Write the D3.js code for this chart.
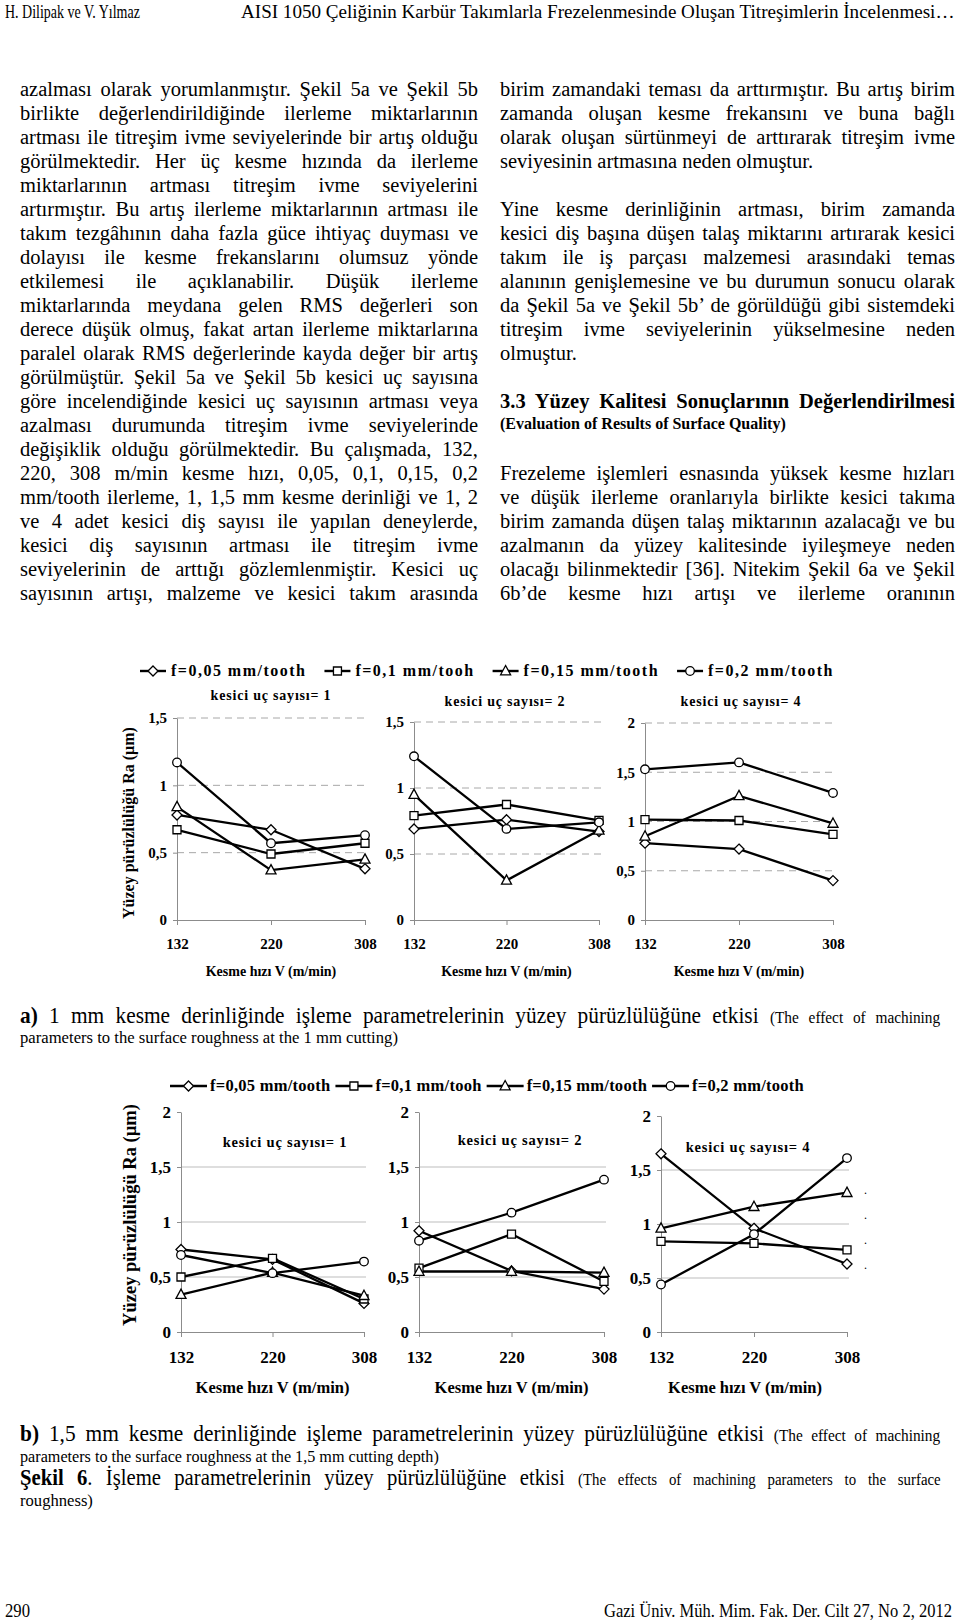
<!DOCTYPE html>
<html>
<head>
<meta charset="utf-8">
<script src="https://cdn.jsdelivr.net/npm/d3@7"></script>
<style>
body{margin:0;background:#fff;}
svg{display:block;}
text{font-family:"Liberation Serif","Times New Roman",serif;fill:#000;}
</style>
</head>
<body>
<div id="page"></div>
<script>
// ---- chart data ----
var speeds = ["132", "220", "308"];
var feedLabels = ["f=0,05 mm/tooth", "f=0,1 mm/tooh", "f=0,15 mm/tooth", "f=0,2 mm/tooth"];
var markerTypes = ["diamond", "square", "triangle", "circle"];
var insertTitles = ["kesici uç sayısı= 1", "kesici uç sayısı= 2", "kesici uç sayısı= 4"];
var ticksTo15 = [0, 0.5, 1, 1.5];
var ticksTo2 = [0, 0.5, 1, 1.5, 2];

// Ra values, one row per feed (0,05 / 0,1 / 0,15 / 0,2), columns = speeds
// a) 1 mm cutting depth
var raA_z1 = [[0.78, 0.67, 0.38], [0.67, 0.49, 0.57], [0.84, 0.37, 0.45], [1.17, 0.57, 0.63]];
var raA_z2 = [[0.69, 0.76, 0.67], [0.79, 0.875, 0.755], [0.95, 0.30, 0.68], [1.24, 0.69, 0.74]];
var raA_z4 = [[0.78, 0.72, 0.40], [1.02, 1.01, 0.87], [0.85, 1.26, 0.98], [1.53, 1.60, 1.29]];
// b) 1,5 mm cutting depth
var raB_z1 = [[0.75, 0.66, 0.26], [0.50, 0.67, 0.30], [0.34, 0.54, 0.33], [0.70, 0.535, 0.64]];
var raB_z2 = [[0.92, 0.555, 0.39], [0.58, 0.89, 0.46], [0.55, 0.55, 0.54], [0.83, 1.085, 1.385]];
var raB_z4 = [[1.65, 0.96, 0.63], [0.84, 0.82, 0.76], [0.96, 1.16, 1.29], [0.44, 0.905, 1.61]];

// ---- page text ----
var leftLines = [
  "azalması olarak yorumlanmıştır. Şekil 5a ve Şekil 5b",
  "birlikte değerlendirildiğinde ilerleme miktarlarının",
  "artması ile titreşim ivme seviyelerinde bir artış olduğu",
  "görülmektedir. Her üç kesme hızında da ilerleme",
  "miktarlarının artması titreşim ivme seviyelerini",
  "artırmıştır. Bu artış ilerleme miktarlarının artması ile",
  "takım tezgâhının daha fazla güce ihtiyaç duyması ve",
  "dolayısı ile kesme frekanslarını olumsuz yönde",
  "etkilemesi ile açıklanabilir. Düşük ilerleme",
  "miktarlarında meydana gelen RMS değerleri son",
  "derece düşük olmuş, fakat artan ilerleme miktarlarına",
  "paralel olarak RMS değerlerinde kayda değer bir artış",
  "görülmüştür. Şekil 5a ve Şekil 5b kesici uç sayısına",
  "göre incelendiğinde kesici uç sayısının artması veya",
  "azalması durumunda titreşim ivme seviyelerinde",
  "değişiklik olduğu görülmektedir. Bu çalışmada, 132,",
  "220, 308 m/min kesme hızı, 0,05, 0,1, 0,15, 0,2",
  "mm/tooth ilerleme, 1, 1,5 mm kesme derinliği ve 1, 2",
  "ve 4 adet kesici diş sayısı ile yapılan deneylerde,",
  "kesici diş sayısının artması ile titreşim ivme",
  "seviyelerinin de arttığı gözlemlenmiştir. Kesici uç",
  "sayısının artışı, malzeme ve kesici takım arasında"
];
var rightLines = [
  "birim zamandaki teması da arttırmıştır. Bu artış birim",
  "zamanda oluşan kesme frekansını ve buna bağlı",
  "olarak oluşan sürtünmeyi de arttırarak titreşim ivme",
  "seviyesinin artmasına neden olmuştur.",
  null,
  "Yine kesme derinliğinin artması, birim zamanda",
  "kesici diş başına düşen talaş miktarını artırarak kesici",
  "takım ile iş parçası malzemesi arasındaki temas",
  "alanının genişlemesine ve bu durumun sonucu olarak",
  "da Şekil 5a ve Şekil 5b’ de görüldüğü gibi sistemdeki",
  "titreşim ivme seviyelerinin yükselmesine neden",
  "olmuştur.",
  null, null, null, null,
  "Frezeleme işlemleri esnasında yüksek kesme hızları",
  "ve düşük ilerleme oranlarıyla birlikte kesici takıma",
  "birim zamanda düşen talaş miktarının azalacağı ve bu",
  "azalmanın da yüzey kalitesinde iyileşmeye neden",
  "olacağı bilinmektedir [36]. Nitekim Şekil 6a ve Şekil",
  "6b’de kesme hızı artışı ve ilerleme oranının"
];
var rightLastLines = [3, 11];

var W = 960, H = 1622;
var svg = d3.select("#page").append("svg").attr("width", W).attr("height", H);

function fmt(v) { return String(v).replace(".", ","); }

// one line of text built from parts; mode: natural | fit | justify
function textLine(parent, x, y, parts, opt) {
  opt = opt || {};
  var t = parent.append("text");
  parts.forEach(function(p) {
    t.append("tspan").text(p.t)
      .attr("font-size", p.size)
      .attr("font-weight", p.bold ? "bold" : null);
  });
  var nat = t.node().getComputedTextLength();
  var sx = opt.sx || 1;
  if (opt.mode === "fit") {
    sx = opt.width / nat;
  } else if (opt.mode === "justify") {
    var str = parts.map(function(p) { return p.t; }).join("");
    var ns = (str.match(/ /g) || []).length;
    var target = opt.width / sx;
    if (nat < target && ns) t.attr("word-spacing", (target - nat) / ns);
    else if (nat > target) sx = opt.width / nat;
  }
  var w = opt.mode === "justify" ? opt.width : nat * sx;
  var tx = opt.anchor === "end" ? x - w : x;
  t.attr("transform", "translate(" + tx + "," + y + ") scale(" + sx + ",1)");
  return t;
}

// header / footer
var hf = svg.append("g");
textLine(hf, 5, 18, [{t: "H. Dilipak ve V. Yılmaz", size: 19}], {mode: "fit", width: 135});
textLine(hf, 955, 18, [{t: "AISI 1050 Çeliğinin Karbür Takımlarla Frezelenmesinde Oluşan Titreşimlerin İncelenmesi…", size: 19}],
  {mode: "fit", width: 714, anchor: "end"});
textLine(hf, 5, 1617, [{t: "290", size: 19}], {mode: "fit", width: 25});
textLine(hf, 952, 1617, [{t: "Gazi Üniv. Müh. Mim. Fak. Der. Cilt 27, No 2, 2012", size: 19}],
  {mode: "fit", width: 348, anchor: "end"});

// body columns
var body = svg.append("g");
var lineH = 24, firstBase = 96, bodySize = 20.5;
leftLines.forEach(function(s, i) {
  textLine(body, 20, firstBase + i * lineH, [{t: s, size: bodySize}], {mode: "justify", width: 458});
});
rightLines.forEach(function(s, i) {
  if (!s) return;
  var last = rightLastLines.indexOf(i) >= 0;
  textLine(body, 500, firstBase + i * lineH, [{t: s, size: bodySize}],
    last ? {} : {mode: "justify", width: 455});
});
textLine(body, 500, firstBase + 13 * lineH,
  [{t: "3.3 Yüzey Kalitesi Sonuçlarının Değerlendirilmesi", size: 20.5, bold: true}],
  {mode: "justify", width: 455});
textLine(body, 500, 429, [{t: "(Evaluation of Results of Surface Quality)", size: 16, bold: true}]);

// ---- chart helpers ----
function markerPath(type) {
  if (type === "diamond") return "M0,-5L5,0L0,5L-5,0Z";
  if (type === "square") return "M-4,-4H4V4H-4Z";
  if (type === "triangle") return "M0,-5.5L5,3.8H-5Z";
  return "M4.3,0A4.3,4.3 0 1,1 -4.3,0A4.3,4.3 0 1,1 4.3,0Z";
}

function legend(g, x0, x1, y, size, lineLen, gap1, gap2) {
  var texts = feedLabels.map(function(s) {
    return g.append("text").attr("font-size", size).attr("font-weight", "bold").attr("y", y + size * 0.33).text(s);
  });
  var nat = texts.map(function(t) { return t.node().getComputedTextLength(); });
  var chars = d3.sum(feedLabels, function(s) { return s.length; });
  var fixed = 4 * lineLen + 4 * gap1 + 3 * gap2;
  var ls = (x1 - x0 - fixed - d3.sum(nat)) / chars;
  var cx = x0;
  feedLabels.forEach(function(s, k) {
    g.append("line").attr("x1", cx).attr("x2", cx + lineLen).attr("y1", y).attr("y2", y)
      .attr("stroke", "#000").attr("stroke-width", 2.4);
    g.append("path").attr("d", markerPath(markerTypes[k]))
      .attr("transform", "translate(" + (cx + lineLen / 2) + "," + y + ")")
      .attr("fill", "#fff").attr("stroke", "#000").attr("stroke-width", 1.3);
    texts[k].attr("x", cx + lineLen + gap1).attr("letter-spacing", ls);
    cx += lineLen + gap1 + nat[k] + ls * s.length + gap2;
  });
}

function panel(g, c) {
  var x = d3.scalePoint().domain(speeds).range([c.x0, c.x1]);
  var y = d3.scaleLinear().domain([0, c.max]).range([c.y0, c.y1]);

  g.selectAll(null)
    .data(c.ticks.filter(function(d) { return d > 0 && (c.gridTop || d < c.max); }))
    .enter().append("line")
    .attr("x1", c.x0).attr("x2", c.x1 + 2)
    .attr("y1", function(d) { return y(d); }).attr("y2", function(d) { return y(d); })
    .attr("stroke", c.dashed ? "#a8a8a8" : "#bdbdbd").attr("stroke-width", 1)
    .attr("stroke-dasharray", c.dashed ? "7,5" : null);

  var ya = g.append("g").attr("transform", "translate(" + c.x0 + ",0)")
    .call(d3.axisLeft(y).tickValues(c.ticks).tickFormat(fmt).tickSize(4).tickSizeOuter(0).tickPadding(6));
  var xa = g.append("g").attr("transform", "translate(0," + c.y0 + ")")
    .call(d3.axisBottom(x).tickSize(5).tickSizeOuter(0).tickPadding(c.xPad));
  [ya, xa].forEach(function(a) {
    a.attr("color", "#8c8c8c").attr("font-size", c.tickSize).attr("font-weight", "bold");
    a.selectAll("text").attr("fill", "#000");
  });

  var line = d3.line()
    .x(function(d, i) { return x(speeds[i]); })
    .y(function(d) { return y(d); });
  c.data.forEach(function(s) {
    g.append("path").attr("d", line(s)).attr("fill", "none")
      .attr("stroke", "#000").attr("stroke-width", 2.3);
  });
  c.data.forEach(function(s, k) {
    g.selectAll(null).data(s).enter().append("path")
      .attr("d", markerPath(markerTypes[k]))
      .attr("transform", function(d, i) { return "translate(" + x(speeds[i]) + "," + y(d) + ")"; })
      .attr("fill", "#fff").attr("stroke", "#000").attr("stroke-width", 1.3);
  });

  g.append("text").attr("x", c.titleX).attr("y", c.titleY).attr("text-anchor", "middle")
    .attr("font-size", c.titleSize).attr("font-weight", "bold").attr("letter-spacing", 0.8)
    .text(c.title);
  g.append("text").attr("x", c.xTitleX || (c.x0 + c.x1) / 2).attr("y", c.xTitleY).attr("text-anchor", "middle")
    .attr("font-size", c.xTitleSize).attr("font-weight", "bold")
    .text("Kesme hızı V (m/min)");
}

// ---- figure a ----
var figA = svg.append("g");
legend(figA, 140, 834, 671, 16, 26, 5, 18);
figA.append("text").attr("transform", "translate(134,823) rotate(-90)").attr("text-anchor", "middle")
  .attr("font-size", 16).attr("font-weight", "bold").text("Yüzey pürüzlülüğü Ra (µm)");
var aBase = {y0: 920, dashed: true, gridTop: true, tickSize: 15, xPad: 13, titleSize: 14, xTitleSize: 14, xTitleY: 976};
[
  {x0: 177, x1: 365, y1: 718, max: 1.5, ticks: ticksTo15, data: raA_z1, title: insertTitles[0], titleX: 271, titleY: 700},
  {x0: 414, x1: 599, y1: 722, max: 1.5, ticks: ticksTo15, data: raA_z2, title: insertTitles[1], titleX: 505, titleY: 706},
  {x0: 645, x1: 833, y1: 723, max: 2, ticks: ticksTo2, data: raA_z4, title: insertTitles[2], titleX: 741, titleY: 706}
].forEach(function(p) { panel(figA.append("g"), Object.assign({}, aBase, p)); });

// ---- figure b ----
var figB = svg.append("g");
legend(figB, 170, 804, 1086, 16.5, 37, 3, 5);
figB.append("text").attr("transform", "translate(136,1215) rotate(-90)").attr("text-anchor", "middle")
  .attr("font-size", 18.5).attr("font-weight", "bold").text("Yüzey pürüzlülüğü Ra (µm)");
var bBase = {y0: 1332, max: 2, ticks: ticksTo2, dashed: false, gridTop: false, tickSize: 17, xPad: 14, titleSize: 14.5, xTitleSize: 16.5, xTitleY: 1393};
[
  {x0: 181, x1: 364, y1: 1112, data: raB_z1, title: insertTitles[0], titleX: 285, titleY: 1147},
  {x0: 419, x1: 604, y1: 1112, data: raB_z2, title: insertTitles[1], titleX: 520, titleY: 1145},
  {x0: 661, x1: 847, y1: 1116, data: raB_z4, title: insertTitles[2], titleX: 748, titleY: 1152, xTitleX: 745}
].forEach(function(p) { panel(figB.append("g"), Object.assign({}, bBase, p)); });
// stray legend dots left in the original figure
figB.selectAll(null).data([0, 1, 2, 3]).enter().append("text")
  .attr("x", 864).attr("y", function(d) { return 1194 + d * 25; })
  .attr("font-size", 12).text(".");

// ---- captions ----
var cap = svg.append("g");
textLine(cap, 20, 1023, [
  {t: "a)", size: 23, bold: true},
  {t: " 1 mm kesme derinliğinde işleme parametrelerinin yüzey pürüzlülüğüne etkisi ", size: 23},
  {t: "(The effect of machining", size: 16.5}
], {mode: "justify", width: 921, sx: 0.93});
textLine(cap, 20, 1043, [{t: "parameters to the surface roughness at the 1 mm cutting)", size: 16.5}], {mode: "fit", width: 378});
textLine(cap, 20, 1441, [
  {t: "b)", size: 23, bold: true},
  {t: " 1,5 mm kesme derinliğinde işleme parametrelerinin yüzey pürüzlülüğüne etkisi ", size: 23},
  {t: "(The effect of machining", size: 16.5}
], {mode: "justify", width: 921, sx: 0.93});
textLine(cap, 20, 1462, [{t: "parameters to the surface roughness at the 1,5 mm cutting depth)", size: 16.5}], {mode: "fit", width: 419});
textLine(cap, 20, 1485, [
  {t: "Şekil 6", size: 23, bold: true},
  {t: ". İşleme parametrelerinin yüzey pürüzlülüğüne etkisi ", size: 23},
  {t: "(The effects of machining parameters to the surface", size: 16.5}
], {mode: "justify", width: 921, sx: 0.9});
textLine(cap, 20, 1506, [{t: "roughness)", size: 16.5}], {mode: "fit", width: 73});
</script>
</body>
</html>
